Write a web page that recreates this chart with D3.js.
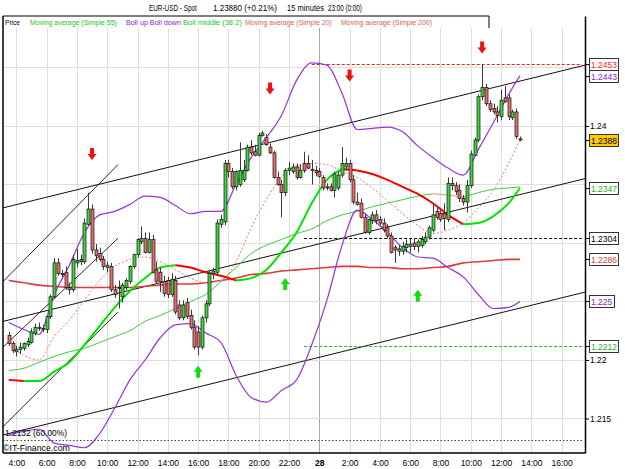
<!DOCTYPE html>
<html>
<head>
<meta charset="utf-8">
<script src="https://cdn.jsdelivr.net/npm/d3@7"></script>
<style>
  body { margin: 0; background: #fff; }
  svg { display: block; font-family: "Liberation Sans", Arial, sans-serif; }
</style>
</head>
<body>
<svg id="chart" width="625" height="469"></svg>
<script>
// 15 minute bars, first bar 3:30 on the 27th (hours relative to 0:00 on the 28th)
var startHour = -20.5;

var opens = [1.2221,1.2214,1.2207,1.2209,1.2210,1.2213,1.2215,1.2223,1.2228,1.2227,1.2226,1.2237,1.2254,1.2283,1.2274,1.2275,1.2262,1.2260,1.2283,1.2286,
  1.2284,1.2316,1.2329,1.2294,1.2291,1.2286,1.2279,1.2280,1.2260,1.2262,1.2254,1.2262,1.2267,1.2280,1.2290,1.2301,1.2304,1.2292,1.2303,1.2277,
  1.2275,1.2267,1.2268,1.2256,1.2268,1.2247,1.2236,1.2249,1.2238,1.2228,1.2224,1.2211,1.2236,1.2248,1.2274,1.2275,1.2316,1.2318,1.2368,1.2361,
  1.2348,1.2350,1.2354,1.2362,1.2382,1.2378,1.2375,1.2392,1.2390,1.2382,1.2377,1.2356,1.2350,1.2343,1.2362,1.2361,1.2365,1.2356,1.2368,1.2368,
  1.2363,1.2362,1.2361,1.2356,1.2348,1.2348,1.2345,1.2347,1.2358,1.2365,1.2368,1.2354,1.2335,1.2334,1.2322,1.2309,1.2319,1.2324,1.2320,1.2317,
  1.2313,1.2306,1.2296,1.2293,1.2293,1.2296,1.2297,1.2300,1.2297,1.2298,1.2301,1.2305,1.2311,1.2327,1.2325,1.2325,1.2320,1.2351,1.2349,1.2345,
  1.2338,1.2335,1.2349,1.2375,1.2388,1.2425,1.2433,1.2419,1.2415,1.2412,1.2408,1.2424,1.2424,1.2407,1.2412,1.2389];
var highs = [1.2224,1.2216,1.2212,1.2215,1.2215,1.2219,1.2227,1.2231,1.2232,1.2230,1.2238,1.2256,1.2287,1.2287,1.2277,1.2280,1.2266,1.2290,1.2295,1.2290,
  1.2321,1.2343,1.2333,1.2299,1.2296,1.2289,1.2284,1.2283,1.2264,1.2268,1.2266,1.2270,1.2281,1.2291,1.2304,1.2314,1.2309,1.2309,1.2307,1.2284,
  1.2279,1.2272,1.2271,1.2274,1.2272,1.2251,1.2251,1.2253,1.2243,1.2234,1.2229,1.2238,1.2251,1.2277,1.2279,1.2320,1.2324,1.2371,1.2371,1.2364,
  1.2362,1.2386,1.2371,1.2384,1.2388,1.2384,1.2394,1.2396,1.2393,1.2385,1.2379,1.2361,1.2354,1.2364,1.2369,1.2368,1.2368,1.2367,1.2378,1.2375,
  1.2371,1.2366,1.2364,1.2358,1.2351,1.2351,1.2361,1.2361,1.2382,1.2373,1.2371,1.2358,1.2343,1.2338,1.2325,1.2321,1.2327,1.2328,1.2323,1.2321,
  1.2316,1.2309,1.2298,1.2298,1.2301,1.2303,1.2304,1.2304,1.2303,1.2306,1.2309,1.2315,1.2333,1.2330,1.2328,1.2334,1.2356,1.2356,1.2352,1.2350,
  1.2341,1.2354,1.2379,1.2390,1.2427,1.2453,1.2436,1.2422,1.2419,1.2417,1.2431,1.2434,1.2427,1.2414,1.2415,1.2391];
var lows = [1.2212,1.2206,1.2203,1.2205,1.2208,1.2211,1.2214,1.2221,1.2225,1.2224,1.2223,1.2235,1.2252,1.2272,1.2271,1.2260,1.2256,1.2258,1.2279,1.2281,
  1.2282,1.2315,1.2291,1.2284,1.2284,1.2277,1.2275,1.2258,1.2253,1.2244,1.2249,1.2260,1.2265,1.2278,1.2288,1.2299,1.2291,1.2291,1.2274,1.2265,
  1.2258,1.2254,1.2253,1.2254,1.2239,1.2234,1.2234,1.2235,1.2226,1.2209,1.2204,1.2209,1.2232,1.2246,1.2269,1.2272,1.2313,1.2315,1.2356,1.2346,
  1.2345,1.2348,1.2352,1.2361,1.2375,1.2374,1.2374,1.2391,1.2383,1.2376,1.2355,1.2349,1.2322,1.2340,1.2358,1.2359,1.2354,1.2355,1.2360,1.2363,
  1.2350,1.2357,1.2356,1.2345,1.2345,1.2344,1.2339,1.2345,1.2356,1.2362,1.2352,1.2333,1.2332,1.2321,1.2308,1.2307,1.2316,1.2316,1.2315,1.2309,
  1.2304,1.2291,1.2283,1.2289,1.2290,1.2292,1.2292,1.2294,1.2292,1.2296,1.2299,1.2303,1.2309,1.2320,1.2318,1.2311,1.2318,1.2345,1.2341,1.2335,
  1.2332,1.2326,1.2347,1.2374,1.2386,1.2422,1.2417,1.2412,1.2410,1.2403,1.2405,1.2420,1.2405,1.2405,1.2389,1.2387];
var closes = [1.2214,1.2208,1.2209,1.2211,1.2214,1.2216,1.2224,1.2228,1.2227,1.2226,1.2237,1.2254,1.2283,1.2274,1.2273,1.2262,1.2260,1.2286,1.2285,1.2284,
  1.2317,1.2329,1.2294,1.2289,1.2286,1.2280,1.2281,1.2260,1.2256,1.2261,1.2264,1.2268,1.2280,1.2290,1.2303,1.2304,1.2292,1.2303,1.2275,1.2267,
  1.2267,1.2257,1.2256,1.2269,1.2241,1.2236,1.2247,1.2237,1.2228,1.2211,1.2211,1.2236,1.2248,1.2274,1.2276,1.2317,1.2320,1.2368,1.2361,1.2348,
  1.2361,1.2362,1.2362,1.2382,1.2377,1.2375,1.2392,1.2394,1.2384,1.2377,1.2356,1.2350,1.2343,1.2362,1.2364,1.2365,1.2356,1.2362,1.2362,1.2364,
  1.2362,1.2360,1.2357,1.2347,1.2347,1.2345,1.2359,1.2358,1.2368,1.2368,1.2354,1.2335,1.2333,1.2322,1.2309,1.2320,1.2324,1.2319,1.2317,1.2311,
  1.2306,1.2292,1.2294,1.2295,1.2297,1.2299,1.2299,1.2297,1.2301,1.2303,1.2305,1.2313,1.2324,1.2322,1.2320,1.2321,1.2351,1.2349,1.2344,1.2338,
  1.2335,1.2349,1.2376,1.2388,1.2425,1.2433,1.2419,1.2414,1.2412,1.2409,1.2422,1.2421,1.2408,1.2412,1.2391,1.2388];

// indicators, read once an hour (3:30 ... 12:30, then 13:15)
var bollUp = [1.2232,1.2226,1.2222,1.2256,1.2281,1.2309,1.2324,1.2327,1.2333,1.2340,1.2339,1.2332,1.2325,1.2327,1.2327,1.2350,1.2373,1.2390,
  1.2409,1.2439,1.2454,1.2452,1.2428,1.2397,1.2398,1.2399,1.2395,1.2383,1.2373,1.2364,1.2358,1.2380,1.2403,1.2427,1.2443];
var bollDown = [1.2136,1.2139,1.2141,1.2129,1.2127,1.2125,1.2137,1.2159,1.2183,1.2200,1.2219,1.2230,1.2231,1.2223,1.2215,1.2187,1.2168,1.2164,
  1.2174,1.2183,1.2213,1.2251,1.2298,1.2328,1.2320,1.2309,1.2296,1.2288,1.2287,1.2279,1.2271,1.2256,1.2244,1.2245,1.2250];
var bollMid = [1.2183,1.2182,1.2182,1.2190,1.2198,1.2213,1.2229,1.2245,1.2259,1.2270,1.2279,1.2281,1.2279,1.2275,1.2272,1.2268,1.2270,1.2277,
  1.2292,1.2309,1.2334,1.2354,1.2363,1.2362,1.2359,1.2354,1.2348,1.2342,1.2334,1.2324,1.2316,1.2317,1.2323,1.2334,1.2347];
var sma20 = [1.2213,1.2204,1.2200,1.2220,1.2234,1.2251,1.2268,1.2280,1.2286,1.2288,1.2284,1.2277,1.2270,1.2266,1.2268,1.2284,1.2313,1.2337,
  1.2356,1.2366,1.2368,1.2367,1.2361,1.2356,1.2347,1.2336,1.2325,1.2315,1.2308,1.2311,1.2317,1.2330,1.2345,1.2368,1.2388];
var sma55 = [1.2191,1.2193,1.2198,1.2203,1.2207,1.2210,1.2215,1.2220,1.2225,1.2233,1.2238,1.2244,1.2250,1.2256,1.2267,1.2279,1.2291,1.2298,
  1.2303,1.2308,1.2312,1.2319,1.2324,1.2327,1.2331,1.2334,1.2337,1.2340,1.2342,1.2341,1.2339,1.2343,1.2346,1.2347,1.2348];
var sma200 = [1.2268,1.2266,1.2264,1.2263,1.2262,1.2262,1.2262,1.2262,1.2262,1.2263,1.2264,1.2265,1.2265,1.2266,1.2268,1.2270,1.2273,1.2274,
  1.2276,1.2277,1.2278,1.2279,1.2280,1.2280,1.2279,1.2279,1.2278,1.2278,1.2279,1.2280,1.2283,1.2284,1.2285,1.2286,1.2286];

// trend channel (parallel lines) and the fan on the left
var channelHours = [-20.88, 17.54];
var channelUpper = [1.2330, 1.2452];
var channelMiddle = [1.2233, 1.2355];
var channelLower = [1.2136, 1.2258];
var fanHours = [-20.88, -13.29];
var fanLines = [[1.2267, 1.2367], [1.2211, 1.2304], [1.2143, 1.2241]];

// horizontal levels
var levelPrices = [1.2453, 1.2304, 1.2212];
var levelFrom = [-0.5, -1, -1];
var fibPrice = 1.2132;
var fibLabel = '1.2132 (60.00%)';

// signal arrows
var sellHours = [-15, -3.25, 2, 10.75];
var sellPrices = [1.2371, 1.2427, 1.2438, 1.2462];
var buyHours = [-8, -2.25, 6.5];
var buyPrices = [1.2195, 1.2270, 1.2260];

var hourTicks = d3.range(-20, 17, 2);
var priceGrid = [1.215, 1.22, 1.225, 1.23, 1.235, 1.24, 1.245];

var padL = 3, padR = 585, padT = 16, padB = 453;
var svg = d3.select('#chart');

var x = d3.scaleLinear().domain([-20.88, 17.54]).range([padL, padR]);
var y = d3.scaleLinear().domain([1.21205, 1.24940]).range([padB, padT]);

var barHours = opens.map(function(d, i) { return startHour + i * 0.25; });
var indHours = d3.range(-20.5, 13, 1).concat([13.25]);

svg.append('rect').attr('width', 625).attr('height', 469).attr('fill', '#fff');

svg.append('clipPath').attr('id', 'plot')
  .append('rect').attr('x', padL).attr('y', 28).attr('width', padR - padL).attr('height', padB - 28);

var plot = svg.append('g').attr('clip-path', 'url(#plot)');

// grid
plot.append('g').selectAll('line').data(hourTicks).enter().append('line')
  .attr('x1', function(d) { return Math.round(x(d)) + 0.5; })
  .attr('x2', function(d) { return Math.round(x(d)) + 0.5; })
  .attr('y1', 28).attr('y2', padB)
  .attr('stroke', function(d) { return d === 0 ? '#a8a8a8' : '#dedede'; });

plot.append('g').selectAll('line').data(priceGrid).enter().append('line')
  .attr('x1', padL).attr('x2', padR)
  .attr('y1', function(d) { return Math.round(y(d)) + 0.5; })
  .attr('y2', function(d) { return Math.round(y(d)) + 0.5; })
  .attr('stroke', '#dedede');

var line = d3.line().x(function(d) { return x(d[0]); }).y(function(d) { return y(d[1]); });
var smooth = d3.line().curve(d3.curveMonotoneX)
  .x(function(d) { return x(d[0]); }).y(function(d) { return y(d[1]); });

function pairs(hours, vals) {
  return vals.map(function(v, i) { return [hours[i], v]; });
}

// channel & fan
[channelUpper, channelMiddle, channelLower].forEach(function(c) {
  plot.append('path').attr('d', line(pairs(channelHours, c)))
    .attr('fill', 'none').attr('stroke', '#111').attr('stroke-width', 1);
});
fanLines.forEach(function(c) {
  plot.append('path').attr('d', line(pairs(fanHours, c)))
    .attr('fill', 'none').attr('stroke', '#111').attr('stroke-width', 0.9);
});

// dotted fibonacci level
plot.append('line').attr('x1', padL).attr('x2', padR - 3)
  .attr('y1', Math.round(y(fibPrice)) + 0.5).attr('y2', Math.round(y(fibPrice)) + 0.5)
  .attr('stroke', '#444').attr('stroke-dasharray', '1.5,2');

// dashed levels
var levelColors = ['#ff1a1a', '#000', '#1fbf1f'];
levelPrices.forEach(function(p, i) {
  plot.append('line').attr('x1', x(levelFrom[i])).attr('x2', padR - 3)
    .attr('y1', Math.round(y(p)) + 0.5).attr('y2', Math.round(y(p)) + 0.5)
    .attr('stroke', levelColors[i]).attr('stroke-width', 1.2).attr('stroke-dasharray', '3,2');
});

// coloured-by-direction runs
function runs(hours, vals) {
  var out = [], cur = null;
  for (var i = 1; i < vals.length; i++) {
    var up = vals[i] >= vals[i - 1];
    if (!cur || cur.up !== up) {
      cur = { up: up, pts: [[hours[i - 1], vals[i - 1]]] };
      out.push(cur);
    }
    cur.pts.push([hours[i], vals[i]]);
  }
  return out;
}

plot.append('path').attr('d', smooth(pairs(indHours, sma200)))
  .attr('fill', 'none').attr('stroke', '#e03a3a').attr('stroke-width', 1.6);

runs(indHours, sma55).forEach(function(r) {
  plot.append('path').attr('d', smooth(r.pts)).attr('fill', 'none')
    .attr('stroke', r.up ? '#3ccc3c' : '#f08a8a').attr('stroke-width', 1);
});

plot.append('path').attr('d', smooth(pairs(indHours, sma20)))
  .attr('fill', 'none').attr('stroke', '#e87a7a').attr('stroke-width', 1).attr('stroke-dasharray', '2,2');

[bollUp, bollDown].forEach(function(b) {
  plot.append('path').attr('d', smooth(pairs(indHours, b)))
    .attr('fill', 'none').attr('stroke', '#9a33d6').attr('stroke-width', 1.2);
});

runs(indHours, bollMid).forEach(function(r) {
  plot.append('path').attr('d', smooth(r.pts)).attr('fill', 'none')
    .attr('stroke', r.up ? '#00e600' : '#f00000').attr('stroke-width', 2);
});

// candles
var bars = plot.append('g').selectAll('g').data(opens).enter().append('g')
  .attr('transform', function(d, i) { return 'translate(' + Math.round(x(barHours[i])) + ',0)'; });

bars.append('line')
  .attr('x1', 0.5).attr('x2', 0.5)
  .attr('y1', function(d, i) { return y(highs[i]); })
  .attr('y2', function(d, i) { return y(lows[i]); })
  .attr('stroke', '#3a3a3a');

bars.append('rect')
  .attr('x', -1).attr('width', 3)
  .attr('y', function(d, i) { return y(Math.max(opens[i], closes[i])); })
  .attr('height', function(d, i) { return Math.max(1, Math.abs(y(opens[i]) - y(closes[i]))); })
  .attr('fill', function(d, i) { return closes[i] >= opens[i] ? '#3cd83c' : '#ea6e6e'; })
  .attr('stroke', '#111').attr('stroke-width', 0.7);

// arrows
var downArrow = 'M-2,-12L2,-12L2,-6L4.5,-6L0,0L-4.5,-6L-2,-6Z';
var upArrow = 'M-2,12L2,12L2,6L4.5,6L0,0L-4.5,6L-2,6Z';
sellHours.forEach(function(h, i) {
  plot.append('path').attr('d', downArrow).attr('fill', '#ee1111')
    .attr('transform', 'translate(' + x(h) + ',' + y(sellPrices[i]) + ')');
});
buyHours.forEach(function(h, i) {
  plot.append('path').attr('d', upArrow).attr('fill', '#11dd11')
    .attr('transform', 'translate(' + x(h) + ',' + y(buyPrices[i]) + ')');
});

// squeezed text: natural glyphs scaled horizontally to the width seen in the chart
function squeezed(px, py, w, size, color, txt) {
  var g = svg.append('g');
  var t = g.append('text').attr('font-size', size).attr('fill', color).text(txt);
  var k = w / t.node().getComputedTextLength();
  g.attr('transform', 'translate(' + px + ',' + py + ') scale(' + k + ',1)');
  return t;
}

squeezed(5, 436, 62, 8.5, '#000', fibLabel);
squeezed(3, 451, 67, 8.5, '#000', '\u00a9IT-Finance.com');

// frame
svg.append('line').attr('x1', padL).attr('x2', padL).attr('y1', padT).attr('y2', padB).attr('stroke', '#000').attr('stroke-width', 1.5);
svg.append('line').attr('x1', padL).attr('x2', padR).attr('y1', padB).attr('y2', padB).attr('stroke', '#000').attr('stroke-width', 1.5);
svg.append('line').attr('x1', padL).attr('x2', 489).attr('y1', padT).attr('y2', padT).attr('stroke', '#000');
svg.append('line').attr('x1', 489).attr('x2', 489).attr('y1', padT).attr('y2', 28).attr('stroke', '#000');

// legend
var legendText = ['Price', 'Moving average (Simple 55)', 'Boll up Boll down', 'Boll middle (38 2)', 'Moving average (Simple 20)', 'Moving average (Simple 200)'];
var legendX = [5, 30, 126, 183, 245, 341];
var legendW = [15, 87, 55, 59, 87, 91];
var legendColor = ['#000', '#22c422', '#8a22cc', '#22c422', '#e05a5a', '#e05a5a'];
legendText.forEach(function(t, i) {
  squeezed(legendX[i], 25, legendW[i], 8, legendColor[i], t);
});

// title
var titleText = ['EUR-USD - Spot', '1.23880 (+0.21%)', '15 minutes', '23:00 (0:00)'];
var titleX = [149, 213, 287, 328];
var titleW = [48, 64, 37, 34];
titleText.forEach(function(t, i) {
  squeezed(titleX[i], 11, titleW[i], 9.5, '#000', t);
});

// x axis
var xAxis = d3.axisBottom(x).tickValues(hourTicks).tickSize(0).tickPadding(7)
  .tickFormat(function(h) { return h === 0 ? '28' : ((h + 24) % 24) + ':00'; });
var gx = svg.append('g').attr('transform', 'translate(0,' + padB + ')').call(xAxis);
gx.select('.domain').remove();
gx.attr('font-size', 8.5).attr('font-family', '"Liberation Sans", Arial, sans-serif');
gx.selectAll('text').attr('fill', '#000').style('font-weight', function(d) { return d === 0 ? 'bold' : null; });

// price boxes on the right axis
var fmt = function(v) { return String(+v.toFixed(4)); };
var boxes = [
  { v: levelPrices[0], color: '#ff1a1a', fill: '#fff' },
  { v: bollUp[bollUp.length - 1], color: '#8a22cc', fill: '#fff' },
  { v: closes[closes.length - 1], color: '#000', fill: '#ffcc00' },
  { v: bollMid[bollMid.length - 1], color: '#22b422', fill: '#fff' },
  { v: levelPrices[1], color: '#000', fill: '#fff' },
  { v: sma200[sma200.length - 1], color: '#e03a3a', fill: '#fff' },
  { v: bollDown[bollDown.length - 1], color: '#8a22cc', fill: '#fff' },
  { v: levelPrices[2], color: '#22b422', fill: '#fff' }
];
boxes.forEach(function(b) { b.y = y(b.v); });
boxes.sort(function(a, b) { return a.y - b.y; });
for (var i = 1; i < boxes.length; i++) {
  if (boxes[i].y < boxes[i - 1].y + 12) boxes[i].y = boxes[i - 1].y + 12;
}

var visTicks = priceGrid.filter(function(v) {
  return boxes.every(function(b) { return Math.abs(y(v) - b.y) > 7; });
});
var yAxis = d3.axisRight(y).tickValues(visTicks).tickSize(4).tickSizeOuter(0).tickPadding(1).tickFormat(fmt);
var gy = svg.append('g').attr('transform', 'translate(' + padR + ',0)').call(yAxis);
gy.attr('font-size', 8.5).attr('font-family', '"Liberation Sans", Arial, sans-serif');
gy.select('.domain').attr('stroke-width', 1.5);
gy.selectAll('text').attr('fill', '#000');

boxes.forEach(function(b) {
  var g = svg.append('g').attr('transform', 'translate(0,' + Math.round(b.y) + ')');
  g.append('line').attr('x1', padR).attr('x2', 589).attr('y1', 0.5).attr('y2', 0.5).attr('stroke', '#000');
  var rect = g.append('rect').attr('x', 589.5).attr('y', -5.5).attr('height', 12)
    .attr('fill', b.fill).attr('stroke', '#333');
  var t = g.append('text').attr('x', 591).attr('y', 4).attr('font-size', 8.5).attr('fill', b.color).text(fmt(b.v));
  rect.attr('width', Math.ceil(t.node().getComputedTextLength()) + 3);
});
</script>
</body>
</html>
